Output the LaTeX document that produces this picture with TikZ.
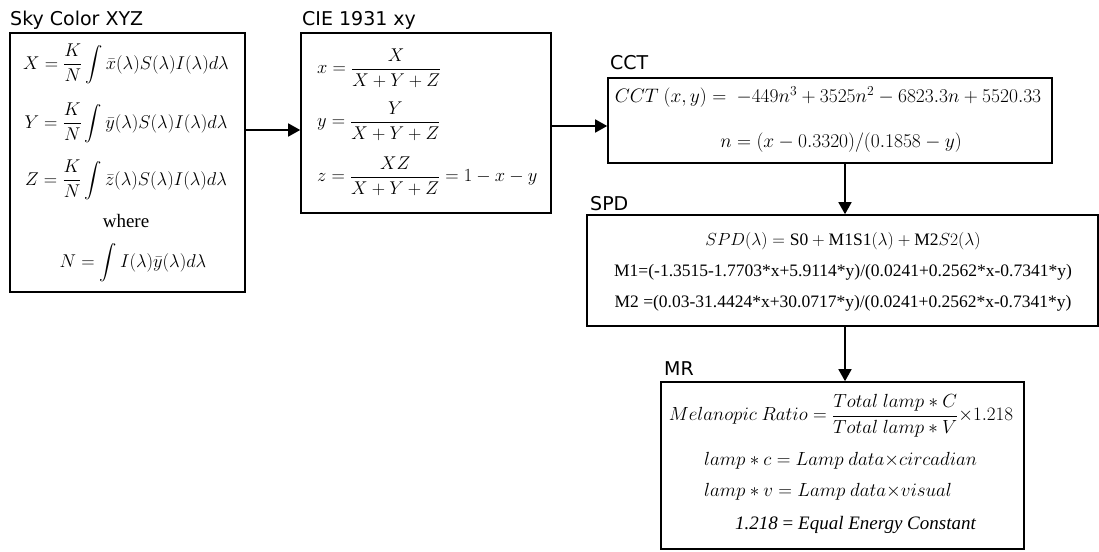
\RequirePackage{fix-cm}
\documentclass[tikz,border=0pt]{standalone}
\usepackage{amsmath}
\usepackage{fontspec}
\setmainfont{Liberation Serif}
\newfontfamily\headfont{DejaVu Sans}
\usetikzlibrary{arrows.meta,calc}

\begin{document}
\begin{tikzpicture}[x=1pt,y=-1pt,
  box/.style={draw, line width=1.6pt, inner sep=0pt},
  title/.style={anchor=base west, inner sep=0pt, font=\headfont\fontsize{19}{22}\selectfont},
  eq/.style={inner sep=0pt, font=\fontsize{18.5}{22}\selectfont},
  eqc/.style={inner sep=0pt, font=\fontsize{19.5}{23}\selectfont},
  eqs/.style={inner sep=0pt, font=\fontsize{17.5}{20}\selectfont},
  eqm/.style={inner sep=0pt, font=\fontsize{19}{22}\selectfont},
  arr/.style={line width=1.6pt, -{Triangle[length=12pt,width=13pt]}}]
\useasboundingbox (0,0) rectangle (1099,551);

% process boxes
\node[box, minimum width=235pt, minimum height=259pt] (sky) at (127.5,162.5) {};
\node[box, minimum width=250pt, minimum height=180pt] (cie) at (426,123) {};
\node[box, minimum width=444pt, minimum height=85pt]  (cct) at (830,120.5) {};
\node[box, minimum width=511pt, minimum height=111pt] (spd) at (842.5,270.5) {};
\node[box, minimum width=363pt, minimum height=167pt] (mr)  at (842.5,465.5) {};

% box titles
\node[title] (skyt) at (10,26)  {Sky Color XYZ};
\node[title] (ciet) at (302,26) {CIE 1931 xy};
\node[title] (cctt) at (610,70) {CCT};
\node[title] (spdt) at (590,210) {SPD};
\node[title] (mrt)  at (664,375) {MR};

% tristimulus values
\node[eq] (skyx) at (126,64)  {$X = \dfrac{K}{N}\displaystyle\int \bar{x}(\lambda)S(\lambda)I(\lambda)d\lambda$};
\node[eq] (skyy) at (126,123) {$Y = \dfrac{K}{N}\displaystyle\int \bar{y}(\lambda)S(\lambda)I(\lambda)d\lambda$};
\node[eq] (skyz) at (126,180) {$Z = \dfrac{K}{N}\displaystyle\int \bar{z}(\lambda)S(\lambda)I(\lambda)d\lambda$};
\node[inner sep=0pt, font=\fontsize{19}{22}\selectfont] (skyw) at (126,221) {where};
\node[eq] (skyn) at (133,263) {$N = \displaystyle\int I(\lambda)\bar{y}(\lambda)d\lambda$};

% chromaticity coordinates
\node[eq, anchor=west] (ciex) at (317,68)  {$x = \dfrac{X}{X+Y+Z}$};
\node[eq, anchor=west] (ciey) at (317,121) {$y = \dfrac{Y}{X+Y+Z}$};
\node[eq, anchor=west] (ciez) at (317,176) {$z = \dfrac{XZ}{X+Y+Z} = 1 - x - y$};

% correlated colour temperature
\node[eqc] (cct1) at (828,97)  {$CCT\ (x,y) =\ -449n^3 + 3525n^2 - 6823.3n + 5520.33$};
\node[eqc] (cct2) at (841,143) {$n = (x - 0.3320)/(0.1858 - y)$};

% spectral power distribution
\node[eqs] (spd1) at (843,241) {$SPD(\lambda) = \mathrm{S0} + \mathrm{M1S1}(\lambda) + \mathrm{M2}S2(\lambda)$};
\node[eqs] (spd2) at (843,272) {M1=(-1.3515-1.7703*x+5.9114*y)/(0.0241+0.2562*x-0.7341*y)};
\node[eqs] (spd3) at (843,303) {M2 =(0.03-31.4424*x+30.0717*y)/(0.0241+0.2562*x-0.7341*y)};

% melanopic ratio
\node[eqm] (mr1) at (841,416) {$Melanopic\ Ratio = \dfrac{Total\ lamp * C}{Total\ lamp * V}{\times}1.218$};
\node[eqm, anchor=west] (mr2) at (704,461) {$lamp * c = Lamp\ data{\times}circadian$};
\node[eqm, anchor=west] (mr3) at (704,492) {$lamp * v = Lamp\ data{\times}visual$};
\node[inner sep=0pt, anchor=west, font=\fontsize{19}{22}\selectfont] (mr4) at (735,525) {\textit{1.218} = \textit{Equal Energy Constant}};

% flow
\draw[arr] (sky.east |- 0,130) -- (cie.west |- 0,130);
\draw[arr] (cie.east |- 0,126) -- (cct.west |- 0,126);
\draw[arr] (cct.south -| 845,0) -- (spd.north -| 845,0);
\draw[arr] (spd.south -| 845,0) -- (mr.north -| 845,0);
\end{tikzpicture}
\end{document}
